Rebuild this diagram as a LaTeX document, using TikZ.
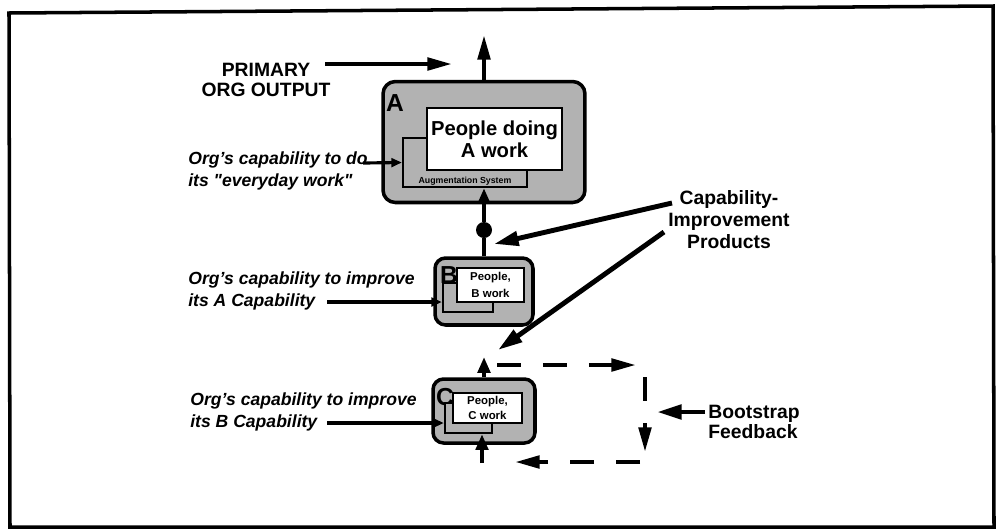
\documentclass[tikz,border=0pt]{standalone}
\usepackage{fontspec}
\setmainfont{Liberation Sans}
\newfontfamily\rawfont{Liberation Sans}[Ligatures=TeXOff]
\usetikzlibrary{positioning, arrows.meta}

\begin{document}
\begin{tikzpicture}[
          x=0.02cm, y=-0.02cm,
          capbox/.style={draw, line width=2pt, rounded corners=7pt, fill=black!30, inner sep=0pt},
          backbox/.style={draw, line width=1.3pt, fill=black!30, inner sep=0pt},
          workbox/.style={draw, line width=1.4pt, fill=white, align=center, inner sep=0pt},
          letter/.style={inner sep=0pt, font=\bfseries\fontsize{14}{14}\selectfont},
          note/.style={anchor=west, align=left, inner sep=0pt, font=\bfseries\itshape\fontsize{10}{12.5}\selectfont},
          tag/.style={align=center, inner sep=0pt, font=\bfseries\fontsize{11}{12.5}\selectfont},
          joint/.style={circle, fill=black, inner sep=0pt, minimum size=0.32cm},
          heavy/.style={line width=2.4pt, -{Triangle[length=14pt, width=7pt]}},
          pointer/.style={line width=2.8pt, -{Triangle[length=14pt, width=8pt]}},
          feed/.style={line width=1.8pt, -{Triangle[length=6pt, width=5pt]}},
          rise/.style={line width=2.6pt, -{Triangle[length=9pt, width=7pt]}},
          loopline/.style={line width=2.4pt, dash pattern=on 0.48cm off 0.44cm, -{Triangle[length=14pt, width=7pt]}}
        ]
        \useasboundingbox (0,0) rectangle (997,529);
        \draw[line width=2pt] (9,13) -- (993,6) -- (994,527) -- (10,527) -- cycle;

        \node[tag, font=\bfseries\fontsize{11}{11.5}\selectfont] (prim) at (266,80) {PRIMARY\\ORG OUTPUT};
        \coordinate (outS) at (325,64);
        \coordinate (outE) at (452,64);
        \coordinate (top) at (484,35);

        \node[capbox, minimum width=4.04cm, minimum height=2.42cm] (Abox) at (484,142) {};
        \node[backbox, minimum width=2.48cm, minimum height=0.98cm] (Aback) at (465,162.5) {};
        \node[inner sep=1.5pt, anchor=south, font=\bfseries\fontsize{5}{5}\selectfont] (augA) at (Aback.south) {Augmentation System};
        \node[workbox, minimum width=2.7cm, minimum height=1.24cm, font=\bfseries\fontsize{11.5}{12.5}\selectfont] (Awork) at (494.5,139) {People doing\\A work};
        \node[letter] (Aname) at (395,103) {A};

        \node[joint] (hub) at (484,230) {};

        \node[capbox, rounded corners=6pt, minimum width=1.96cm, minimum height=1.34cm] (Bbox) at (484,291.5) {};
        \node[letter] (Bname) at (449,275) {B};
        \node[backbox, minimum width=1.0cm, minimum height=0.58cm] (Bback) at (468,297.5) {};
        \node[workbox, minimum width=1.34cm, minimum height=0.68cm, font=\bfseries\fontsize{6.5}{9.5}\selectfont] (Bwork) at (490.5,285) {People,\\B work};

        \node[capbox, rounded corners=6pt, minimum width=2.04cm, minimum height=1.28cm] (Cbox) at (484,411) {};
        \node[letter] (Cname) at (445,397) {C};
        \node[backbox, minimum width=0.94cm, minimum height=0.6cm] (Cback) at (468.5,418) {};
        \node[workbox, minimum width=1.38cm, minimum height=0.6cm, font=\bfseries\fontsize{6.5}{8.5}\selectfont] (Cwork) at (487.5,408) {People,\\C work};

        \node[note] (noteA) at (188,171) {Org's capability to do\\its {\rawfont"}everyday work{\rawfont"}};
        \node[note] (noteB) at (188,291) {Org's capability to improve\\its A Capability};
        \node[note] (noteC) at (190,411.5) {Org's capability to improve\\its B Capability};
        \coordinate (noteAend) at (363,163);
        \coordinate (noteBend) at (327,302);
        \coordinate (noteCend) at (327,423);

        \node[tag] (prod) at (729,220) {Capability-\\Improvement\\Products};
        \coordinate (capA) at (672,203);
        \coordinate (capB) at (664,232);
        \coordinate (capTipA) at (494,244);
        \coordinate (capTipC) at (498,350);

        \node[tag, anchor=west, align=left, font=\bfseries\fontsize{11}{11}\selectfont] (boot) at (708,422) {Bootstrap\\Feedback};
        \coordinate (bootS) at (705,412);
        \coordinate (bootE) at (657,412);

        \coordinate (ctop) at (484,357);
        \coordinate (cfeed) at (482,463);
        \coordinate (loopA) at (497,365);
        \coordinate (loopB) at (636,365);
        \coordinate (loopC) at (645,377);
        \coordinate (loopD) at (645,452);
        \coordinate (loopE) at (640,462);
        \coordinate (loopF) at (515,462);

        \draw[heavy] (outS) -- (outE);
        \draw[heavy] (Abox.north) -- (top);
        \draw[rise] (Bbox.north) -- (hub) -- (hub |- Aback.south);
        \draw[feed] (noteAend) -- (Aback.west);
        \draw[feed] (noteBend) -- (Bback.west |- noteBend);
        \draw[feed] (noteCend) -- (Cback.west |- noteCend);
        \draw[pointer] (capA) -- (capTipA);
        \draw[pointer] (capB) -- (capTipC);
        \draw[pointer] (bootS) -- (bootE);
        \draw[rise] (Cbox.north) -- (ctop);
        \draw[rise] (cfeed) -- (cfeed |- Cback.south);
        \draw[loopline] (loopA) -- (loopB);
        \draw[loopline] (loopC) -- (loopD);
        \draw[loopline] (loopE) -- (loopF);
\end{tikzpicture}
\end{document}
